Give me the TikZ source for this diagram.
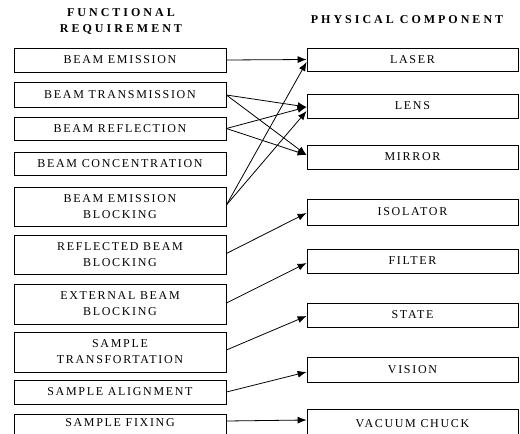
\documentclass[tikz,border=0pt]{standalone}
\usepackage{fontspec}
\setmainfont{Liberation Serif}
\newfontfamily\boxfont[LetterSpace=14]{Liberation Serif}
\newfontfamily\headfont[LetterSpace=25]{Liberation Serif}
\usetikzlibrary{arrows.meta,calc}
\tikzset{
  fbox/.style={draw, line width=0.8pt, inner sep=0pt, align=center,
    font=\boxfont\fontsize{12}{16}\selectfont},
  lbox/.style={fbox, minimum width=212pt},
  rbox/.style={fbox, minimum width=211pt},
  head/.style={align=center, inner sep=0pt, font=\headfont\bfseries\fontsize{12}{16}\selectfont},
  link/.style={line width=0.8pt, -{Latex[length=9pt,width=7pt]}}
}
\begin{document}
\begin{tikzpicture}[x=1pt,y=-1pt]
\useasboundingbox (0,0) rectangle (520,434);
% headers
\node[head] (hl) at (121,21) {FUNCTIONAL\\REQUIREMENT};
\node[head] (hr) at (407,20) {PHYSICAL COMPONENT};
% left boxes
\node[lbox, minimum height=24pt] (l1) at (120,60) {BEAM EMISSION};
\node[lbox, minimum height=25pt] (l2) at (120,94.5) {BEAM TRANSMISSION};
\node[lbox, minimum height=23pt] (l3) at (120,128.5) {BEAM REFLECTION};
\node[lbox, minimum height=23pt] (l4) at (120,163.5) {BEAM CONCENTRATION};
\node[lbox, minimum height=39pt] (l5) at (120,206.5) {BEAM EMISSION\\BLOCKING};
\node[lbox, minimum height=39pt] (l6) at (120,254.5) {REFLECTED BEAM\\BLOCKING};
\node[lbox, minimum height=40pt] (l7) at (120,304) {EXTERNAL BEAM\\BLOCKING};
\node[lbox, minimum height=40pt] (l8) at (120,352) {SAMPLE\\TRANSFORTATION};
\node[lbox, minimum height=24pt] (l9) at (120,392) {SAMPLE ALIGNMENT};
\node[lbox, text height=8pt, text depth=18pt, inner ysep=4pt, anchor=north] (l10) at (120,414) {SAMPLE FIXING};
% right boxes
\node[rbox, minimum height=23pt] (r1) at (412.5,59.5) {LASER};
\node[rbox, minimum height=24pt] (r2) at (412.5,106) {LENS};
\node[rbox, minimum height=24pt] (r3) at (412.5,157) {MIRROR};
\node[rbox, minimum height=26pt] (r4) at (412.5,212) {ISOLATOR};
\node[rbox, minimum height=24pt] (r5) at (412.5,261) {FILTER};
\node[rbox, minimum height=24pt] (r6) at (412.5,315) {STATE};
\node[rbox, minimum height=25pt] (r7) at (412.5,369.5) {VISION};
\node[rbox, text height=8pt, text depth=18pt, inner ysep=10pt, anchor=north] (r8) at (412.5,409) {VACUUM CHUCK};
% links
\draw[link] (l1.east) -- (r1.west);
\draw[link] ($(l2.east)+(0,0.5)$) -- ($(r2.west)+(0,1)$);
\draw[link] ($(l2.east)+(0,0.5)$) -- ($(r3.west)+(0,-2)$);
\draw[link] (l3.east) -- ($(r2.west)+(0,1)$);
\draw[link] (l3.east) -- ($(r3.west)+(0,-2)$);
\draw[link] ($(l5.east)+(0,-1.5)$) -- ($(r1.west)+(0,2.5)$);
\draw[link] ($(l5.east)+(0,-1.5)$) -- ($(r2.west)+(0,5)$);
\draw[link] ($(l6.east)+(0,-1)$) -- ($(r4.west)+(0,1)$);
\draw[link] ($(l7.east)+(0,-1)$) -- ($(r5.west)+(0,2)$);
\draw[link] ($(l8.east)+(0,-2)$) -- ($(r6.west)+(0,1)$);
\draw[link] (l9.east) -- ($(r7.west)+(0,2.5)$);
\draw[link] ($(l10.north east)+(0,7)$) -- ($(r8.north west)+(0,11)$);
\end{tikzpicture}
\end{document}
